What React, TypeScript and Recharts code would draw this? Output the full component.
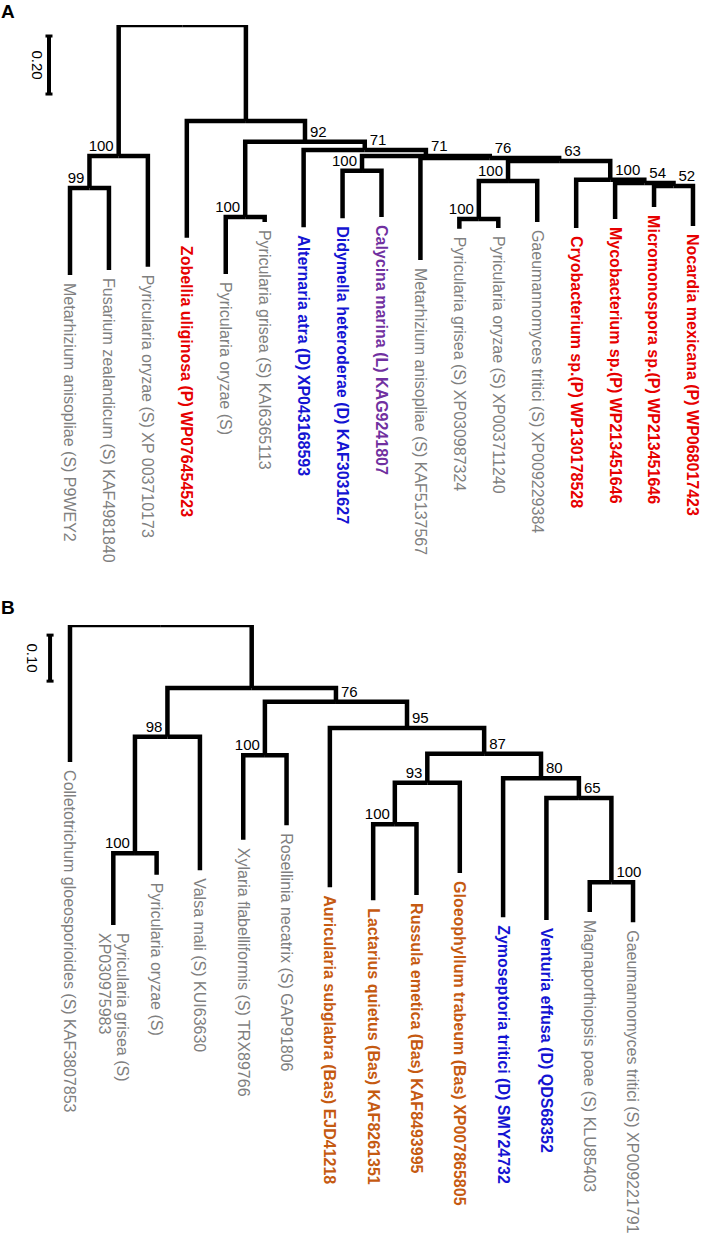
import React from "react";
import { ComposedChart, Line, Scatter, XAxis, YAxis } from "recharts";

const FONT = "'Liberation Sans', Arial, Helvetica, sans-serif";
const INK = "#000000";

const GROUP_COLORS: Record<string, string> = {
  S: "#7f7f7f",
  P: "#e60000",
  D: "#1414d2",
  L: "#7030a0",
  Bas: "#c55a11",
};

// ---- Panel A ----
const leafNamesA = [
  "Metarhizium anisopliae (S) P9WEY2",
  "Fusarium zealandicum (S) KAF4981840",
  "Pyricularia oryzae (S) XP 003710173",
  "Zobellia uliginosa (P) WP076454523",
  "Pyricularia oryzae (S)",
  "Pyricularia grisea (S) KAI6365113",
  "Alternaria atra (D) XP043168593",
  "Didymella heteroderae (D) KAF3031627",
  "Calycina marina (L) KAG9241807",
  "Metarhizium anisopliae (S) KAF5137567",
  "Pyricularia grisea (S) XP030987324",
  "Pyricularia oryzae (S) XP003711240",
  "Gaeumannomyces tritici (S) XP009229384",
  "Cryobacterium sp.(P) WP130178528",
  "Mycobacterium sp.(P) WP213451646",
  "Micromonospora sp.(P) WP213451646",
  "Nocardia mexicana (P) WP068017423",
];
const leafGroupsA = ["S", "S", "S", "P", "S", "S", "D", "D", "L", "S", "S", "S", "S", "P", "P", "P", "P"];
const leafDepthA = [0.862, 0.845, 0.834, 0.734, 0.859, 0.679, 0.697, 0.666, 0.662, 0.81, 0.703, 0.7, 0.679, 0.7, 0.669, 0.628, 0.693];

// internal nodes: n0 is the root; children are leaves (L#) or nodes (n#)
const nodeChildrenA = [
  ["n1", "n3"],
  ["n2", "L2"],
  ["L0", "L1"],
  ["L3", "n4"],
  ["n5", "n6"],
  ["L4", "L5"],
  ["L6", "n7"],
  ["n8", "n9"],
  ["L7", "L8"],
  ["L9", "n10"],
  ["n11", "n13"],
  ["n12", "L12"],
  ["L10", "L11"],
  ["L13", "n14"],
  ["L14", "n15"],
  ["L15", "L16"],
];
const nodeSupportA = [null, 100, 99, null, 92, 100, 71, 71, 100, 76, 63, 100, 100, 100, 54, 52];
const nodeDepthA = [0, 0.452, 0.562, 0.331, 0.403, 0.662, 0.431, 0.452, 0.503, 0.459, 0.469, 0.538, 0.669, 0.534, 0.545, 0.555];

// ---- Panel B ----
const leafNamesB = [
  "Colletotrichum gloeosporioides (S) KAF3807853",
  "Pyricularia grisea (S)\nXP030975983",
  "Pyricularia oryzae (S)",
  "Valsa mali (S) KUI63630",
  "Xylaria flabelliformis (S) TRX89766",
  "Rosellinia necatrix (S) GAP91806",
  "Auricularia subglabra (Bas) EJD41218",
  "Lactarius quietus (Bas) KAF8261351",
  "Russula emetica (Bas) KAF8493995",
  "Gloeophyllum trabeum (Bas) XP007865805",
  "Zymoseptoria tritici (D) SMY24732",
  "Venturia effusa (D) QDS68352",
  "Magnaporthiopsis poae (S) KLU85403",
  "Gaeumannomyces tritici (S) XP009221791",
];
const leafGroupsB = ["S", "S", "S", "S", "S", "S", "Bas", "Bas", "Bas", "Bas", "D", "D", "S", "S"];
const leafDepthB = [0.298, 0.652, 0.543, 0.533, 0.467, 0.435, 0.57, 0.598, 0.587, 0.539, 0.635, 0.641, 0.624, 0.646];

const nodeChildrenB = [
  ["L0", "n1"],
  ["n2", "n4"],
  ["n3", "L3"],
  ["L1", "L2"],
  ["n5", "n6"],
  ["L4", "L5"],
  ["L6", "n7"],
  ["n8", "n10"],
  ["n9", "L9"],
  ["L7", "L8"],
  ["L10", "n11"],
  ["L11", "n12"],
  ["L12", "L13"],
];
const nodeSupportB = [null, null, 98, 100, 76, 100, 95, 87, 93, 100, 80, 65, 100];
const nodeDepthB = [0, 0.137, 0.243, 0.496, 0.167, 0.283, 0.224, 0.28, 0.343, 0.433, 0.333, 0.376, 0.559];

type Pt = { x: number; y: number };

function layoutTree(
  names: string[],
  groups: string[],
  leafDepth: number[],
  children: string[][],
  support: (number | null)[],
  depth: number[]
) {
  const pos: Record<string, Pt> = {};
  leafDepth.forEach((d, i) => (pos["L" + i] = { x: i, y: d }));
  const place = (id: string): Pt => {
    if (pos[id]) return pos[id];
    const k = Number(id.slice(1));
    const kids = children[k].map(place);
    pos[id] = { x: (kids[0].x + kids[kids.length - 1].x) / 2, y: depth[k] };
    return pos[id];
  };
  place("n0");

  const edges: { key: string; pts: Pt[] }[] = [];
  const side: Record<string, string> = {};
  children.forEach((kids, k) => {
    const p = pos["n" + k];
    kids.forEach((c, j) => {
      const q = pos[c];
      edges.push({ key: `n${k}-${c}`, pts: [{ x: p.x, y: p.y }, { x: q.x, y: p.y }, { x: q.x, y: q.y }] });
      side[c] = j === 0 ? "left" : "right";
    });
  });

  const leaves = names.map((name, i) => ({ x: i, y: leafDepth[i], name, group: groups[i] }));
  const supports = support
    .map((s, k) => ({ x: pos["n" + k].x, y: depth[k], support: s, side: side["n" + k] }))
    .filter((d) => d.support != null);
  return { edges, leaves, supports };
}

const LeafLabel = (props: any) => {
  const { cx, cy, payload } = props;
  const y0 = cy + 8;
  const lines: string[] = payload.name.split("\n");
  const bold = payload.group !== "S";
  return (
    <text
      x={cx}
      y={y0}
      transform={`rotate(90 ${cx} ${y0})`}
      fill={GROUP_COLORS[payload.group]}
      fontSize={16}
      fontWeight={bold ? 700 : 400}
      fontFamily={FONT}
    >
      {lines.map((ln, i) => (
        <tspan key={i} x={cx} dy={i === 0 ? `${0.35 - 0.55 * (lines.length - 1)}em` : "1.1em"}>
          {ln}
        </tspan>
      ))}
    </text>
  );
};

const SupportLabel = (props: any) => {
  const { cx, cy, payload } = props;
  const left = payload.side === "left";
  return (
    <text
      x={left ? cx - 5 : cx + 5}
      y={cy - 5}
      textAnchor={left ? "end" : "start"}
      fill={INK}
      fontSize={15}
      fontFamily={FONT}
    >
      {payload.support}
    </text>
  );
};

const ScaleCap = (props: any) => (
  <rect key={`cap-${props.index}`} x={props.cx - 3.5} y={props.cy - 1.5} width={7} height={3} fill={INK} />
);

const ScaleText = (props: any) => {
  const { cx, cy, payload } = props;
  return (
    <text
      x={cx}
      y={cy}
      transform={`rotate(90 ${cx} ${cy})`}
      textAnchor="middle"
      dy="0.35em"
      fill={INK}
      fontSize={15}
      fontFamily={FONT}
    >
      {payload.label}
    </text>
  );
};

function TreePanel(props: {
  width: number;
  height: number;
  top: number;
  xDomain: [number, number];
  yDomain: [number, number];
  tree: ReturnType<typeof layoutTree>;
  scale: { x: number; y0: number; len: number; label: string; labelDx: number };
}) {
  const { tree, scale } = props;
  const bar = [
    { x: scale.x, y: scale.y0 },
    { x: scale.x, y: scale.y0 + scale.len },
  ];
  const barLabel = [{ x: scale.x + scale.labelDx, y: scale.y0 + scale.len / 2, label: scale.label }];
  return (
    <ComposedChart width={props.width} height={props.height} margin={{ top: props.top, right: 0, bottom: 0, left: 0 }}>
      <XAxis type="number" dataKey="x" domain={props.xDomain} allowDataOverflow hide />
      <YAxis type="number" dataKey="y" domain={props.yDomain} allowDataOverflow reversed hide />
      {tree.edges.map((e) => (
        <Line
          key={e.key}
          data={e.pts}
          dataKey="y"
          type="linear"
          stroke={INK}
          strokeWidth={4.5}
          strokeLinejoin="miter"
          strokeLinecap="butt"
          dot={false}
          activeDot={false}
          isAnimationActive={false}
        />
      ))}
      <Line
        data={bar}
        dataKey="y"
        type="linear"
        stroke={INK}
        strokeWidth={4}
        dot={ScaleCap}
        activeDot={false}
        isAnimationActive={false}
      />
      <Scatter data={barLabel} dataKey="y" shape={ScaleText} isAnimationActive={false} />
      <Scatter data={tree.leaves} dataKey="y" shape={LeafLabel} isAnimationActive={false} />
      <Scatter data={tree.supports} dataKey="y" shape={SupportLabel} isAnimationActive={false} />
    </ComposedChart>
  );
}

export default function App() {
  const treeA = layoutTree(leafNamesA, leafGroupsA, leafDepthA, nodeChildrenA, nodeSupportA, nodeDepthA);
  const treeB = layoutTree(leafNamesB, leafGroupsB, leafDepthB, nodeChildrenB, nodeSupportB, nodeDepthB);
  const panelLetter: React.CSSProperties = {
    position: "absolute",
    left: 1,
    fontFamily: FONT,
    fontWeight: 700,
    fontSize: 19,
    lineHeight: "19px",
    color: INK,
  };
  return (
    <div style={{ position: "absolute", left: 0, top: 0, width: 701, height: 1236, background: "#fff", overflow: "hidden" }}>
      <div style={{ position: "absolute", left: 0, top: 0 }}>
        <TreePanel
          width={701}
          height={605}
          top={25}
          xDomain={[-1.798, 16.206]}
          yDomain={[0, 2]}
          tree={treeA}
          scale={{ x: -0.54, y0: 0.038, len: 0.2, label: "0.20", labelDx: -0.31 }}
        />
      </div>
      <div style={{ position: "absolute", left: 0, top: 600 }}>
        <TreePanel
          width={701}
          height={636}
          top={25}
          xDomain={[-1.616, 14.569]}
          yDomain={[0, 1.328]}
          tree={treeB}
          scale={{ x: -0.46, y0: 0.022, len: 0.1, label: "0.10", labelDx: -0.41 }}
        />
      </div>
      <div style={{ ...panelLetter, top: 2 }}>A</div>
      <div style={{ ...panelLetter, top: 598 }}>B</div>
    </div>
  );
}
